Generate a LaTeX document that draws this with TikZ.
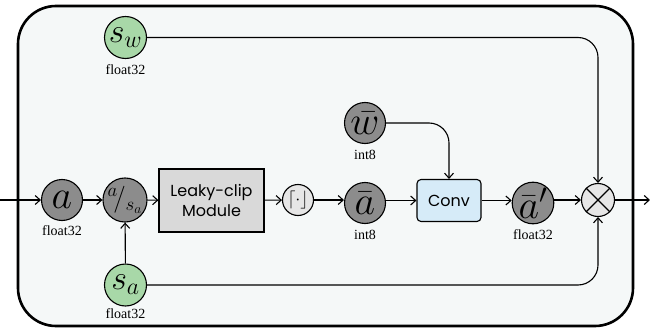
\documentclass[tikz,border=0pt]{standalone}
\usepackage{fix-cm}
\usepackage{fontspec}
\setmainfont{Liberation Serif}
\newfontfamily\boxfont{Poppins}
\usetikzlibrary{arrows.meta}
\definecolor{bgc}{HTML}{F5F8F8}
\definecolor{darkc}{HTML}{8C8C8C}
\definecolor{greenc}{HTML}{A8D8A8}
\definecolor{lightc}{HTML}{E6E6E6}
\definecolor{leakyc}{HTML}{D9D9D9}
\definecolor{convc}{HTML}{D6EBF8}
\tikzset{
  var/.style={circle,draw=black,line width=1.1pt,fill=darkc,minimum size=41pt,inner sep=0pt},
  gvar/.style={circle,draw=black,line width=1.1pt,fill=greenc,minimum size=42pt,inner sep=0pt},
  op/.style={circle,draw=black,line width=1.1pt,fill=lightc,inner sep=0pt},
  lab/.style={font=\fontsize{14}{14}\selectfont,inner sep=0pt},
  conn/.style={line width=1.1pt,-{Straight Barb[length=5pt,width=9pt]}},
}
\begin{document}
\begin{tikzpicture}[x=1pt,y=-1pt]
\useasboundingbox (0,0) rectangle (650,329);
\draw[line width=2.6pt,fill=bgc,rounded corners=38pt] (18,6) rectangle (633,326);
% nodes
\node[var] (a) at (62,200) {\fontsize{40}{40}\selectfont$a$};
\node[var,minimum size=42pt] (as) at (125,200) {\fontsize{27}{27}\selectfont$^{a}\!/_{s_a}$};
\node[draw=black,line width=1.1pt,fill=leakyc,minimum width=105pt,minimum height=63pt,align=center,inner sep=0pt,font=\boxfont\fontsize{16}{20}\selectfont] (leaky) at (211.5,200.5) {Leaky-clip\\Module};
\node[op,minimum size=31pt] (rnd) at (298,200) {\fontsize{18}{18}\selectfont$\lceil\cdot\rfloor$};
\node[var] (abar) at (365,203) {\fontsize{40}{40}\selectfont$\bar{a}$};
\node[var] (wbar) at (365,123) {\fontsize{40}{40}\selectfont$\bar{w}$};
\node[draw=black,line width=1.1pt,fill=convc,rounded corners=4pt,minimum width=64pt,minimum height=42pt,inner sep=0pt,font=\boxfont\fontsize{16}{16}\selectfont] (conv) at (449,200.5) {Conv};
\node[var] (abp) at (533,203) {\fontsize{40}{40}\selectfont$\bar{a}'$};
\node[op,minimum size=33pt] (mul) at (598,200) {};
\draw[line width=1.1pt] (mul.45) -- (mul.225) (mul.135) -- (mul.315);
\node[gvar] (sw) at (125.5,37.5) {\fontsize{34}{34}\selectfont$s_w$};
\node[gvar] (sa) at (125.5,285) {\fontsize{34}{34}\selectfont$s_a$};
% labels
\node[lab] (la) at (62,231) {float32};
\node[lab] (labar) at (365,235) {int8};
\node[lab] (lwbar) at (365,155) {int8};
\node[lab] (labp) at (533,235) {float32};
\node[lab] (lsw) at (125.5,70) {float32};
\node[lab] (lsa) at (125.5,314) {float32};
% connectors
\coordinate (in) at (0,200);
\coordinate (out) at (650,200);
\draw[conn] (in) -- (a);
\draw[conn] (a) -- (as);
\draw[conn] (as) -- (leaky);
\draw[conn] (leaky) -- (rnd);
\draw[conn] (rnd) -- (abar.west |- rnd);
\draw[conn] (abar.east |- conv) -- (conv);
\draw[conn] (conv) -- (abp.west |- conv);
\draw[conn] (abp.east |- mul) -- (mul);
\draw[conn] (mul) -- (out);
\draw[conn] (sa) -- (as);
\draw[conn,rounded corners=20pt] (wbar) -| (conv);
\draw[conn,rounded corners=20pt] (sw) -| (mul);
\draw[conn,rounded corners=20pt] (sa) -| (mul);
\end{tikzpicture}
\end{document}
